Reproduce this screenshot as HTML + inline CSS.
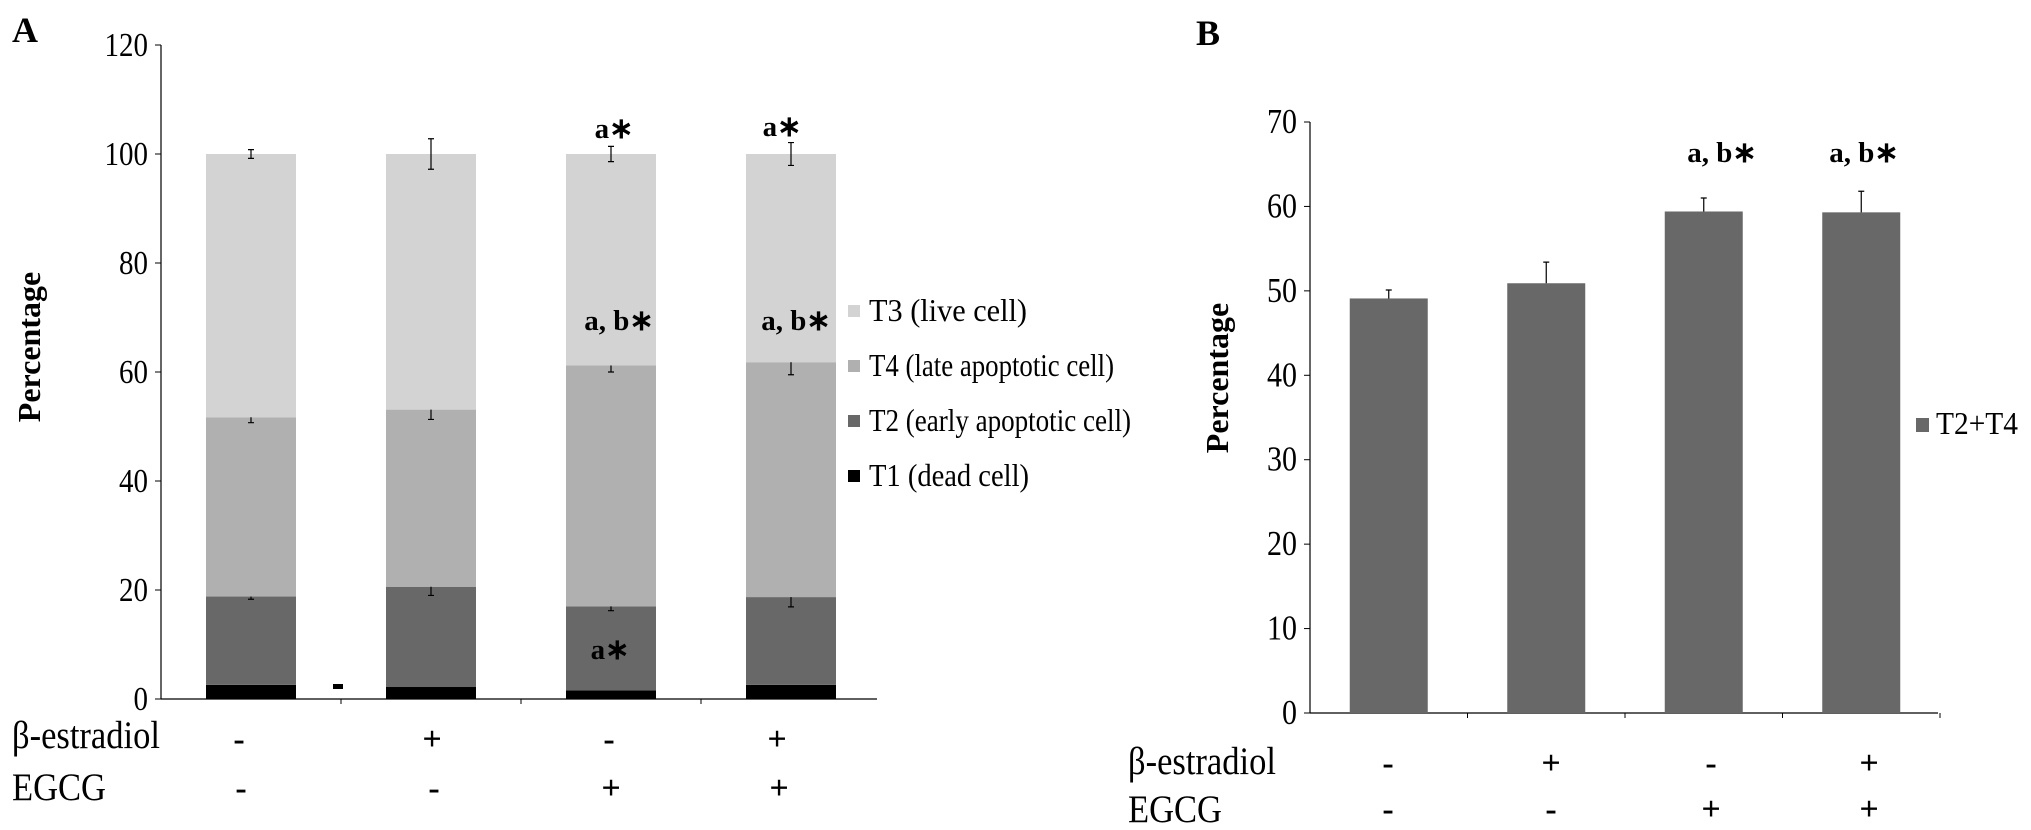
<!DOCTYPE html>
<html><head><meta charset="utf-8"><style>
html,body{margin:0;padding:0;background:#fff;}
svg{display:block;font-family:"Liberation Serif",serif;}
</style></head><body>
<svg id="c" width="2031" height="830" viewBox="0 0 2031 830"></svg>
<script>
// Panel A data
const catsA = ["ctrl","E2","EGCG","E2+EGCG"];
const t1 = [2.6, 2.2, 1.6, 2.6];
const t2 = [16.2, 18.4, 15.4, 16.1];
const t4 = [32.9, 32.5, 44.2, 43.1];
const t3 = [48.3, 46.9, 38.8, 38.2];
const errT2 = [0.5, 1.6, 0.8, 1.8];
const errT4 = [1.0, 1.8, 1.2, 2.3];
const errT3 = [0.8, 2.8, 1.4, 2.1];
const ticksA = [0,20,40,60,80,100,120];
// Panel B data
const catsB = ["ctrl","E2","EGCG","E2+EGCG"];
const valsB = [49.1, 50.9, 59.4, 59.3];
const errB = [1.0, 2.5, 1.6, 2.5];
const ticksB = [0,10,20,30,40,50,60,70];
const estr = ["-","+","-","+"];
const egcg = ["-","-","+","+"];

const svg = document.getElementById('c');
const NS = "http://www.w3.org/2000/svg";
function mk(tag, attrs, txt){
  const e = document.createElementNS(NS, tag);
  for (const k in attrs) e.setAttribute(k, attrs[k]);
  if (txt !== undefined) e.textContent = txt;
  svg.appendChild(e); return e;
}
// tall text helper (reference glyphs are vertically stretched)
function tall(x, y, size, anchor, txt, extra){
  const a = {x:0,y:0,'font-size':size,'text-anchor':anchor,transform:`translate(${x},${y}) scale(1,1.18)`};
  if (extra) for (const k in extra) a[k]=extra[k];
  return mk('text', a, txt);
}
let e;
// ---------- Panel A ----------
const A = {x0:161, x1:881, y0:699, yTop:45, max:120};
const yA = v => A.y0 - (v/A.max)*(A.y0-A.yTop);
const bwA = (A.x1-A.x0)/catsA.length;
const xA = i => A.x0 + bwA*(i+0.5);
e = mk('line',{x1:A.x0,y1:A.yTop,x2:A.x0,y2:A.y0,stroke:'#000','stroke-width':1.2});
 
e = mk('line',{x1:A.x0,y1:A.y0,x2:A.x1-4,y2:A.y0,stroke:'#000','stroke-width':1.2});
 
ticksA.forEach(t=>{
  e = mk('line',{x1:A.x0-6,y1:yA(t),x2:A.x0,y2:yA(t),stroke:'#000'});
   
  e = tall(A.x0-13, yA(t)+11, 29, 'end', String(t));
   
});
for(let i=1;i<catsA.length;i++){
  e = mk('line',{x1:A.x0+bwA*i,y1:A.y0,x2:A.x0+bwA*i,y2:A.y0+5,stroke:'#000'});
   
}
const segs = [[t1,'#000','t1',null],[t2,'#686868','t2',errT2],[t4,'#b0b0b0','t4',errT4],[t3,'#d3d3d3','t3',errT3]];
const barW = 90;
catsA.forEach((c,i)=>{
  let base = 0;
  segs.forEach(([arr,col,nm,err])=>{
    const top = base + arr[i];
    e = mk('rect',{x:xA(i)-barW/2,y:yA(top),width:barW,height:yA(base)-yA(top),fill:col});
     
    if(err){
      const cx = xA(i);
      const g1 = yA(top+err[i]), g2 = yA(top-err[i]);
      e = mk('path',{d:`M${cx} ${g1}V${g2}M${cx-3} ${g1}H${cx+3}M${cx-3} ${g2}H${cx+3}`,stroke:'#000','stroke-width':1.2,fill:'none'});
       
    }
    base = top;
  });
});
[[614,138,'a∗'],[782,136,'a∗'],[619,330,'a, b∗'],[796,330,'a, b∗'],[610,659,'a∗']].forEach(([x,y,t])=>{
  e = mk('text',{x:x,y:y,'text-anchor':'middle','font-size':29,'font-weight':'bold'},t);
   
});
e = mk('rect',{x:333,y:684,width:10,height:5,fill:'#000'});
 
const legA = [['T3  (live cell)','#d3d3d3',158],['T4  (late apoptotic cell)','#b0b0b0',245],['T2  (early apoptotic cell)','#686868',262],['T1  (dead cell)','#000',160]];
legA.forEach(([t,col,w],k)=>{
  const yy = 312 + k*55;
  e = mk('rect',{x:848,y:yy-7,width:12,height:12,fill:col});
   
  e = tall(869, yy+9, 27, 'start', t, {'xml:space':'preserve',textLength:w,lengthAdjust:'spacingAndGlyphs'});
   
});
e = mk('text',{x:0,y:0,'font-size':32,'font-weight':'bold','text-anchor':'middle',transform:'translate(40,347) rotate(-90)'},'Percentage');
 
e = mk('text',{x:12,y:42,'font-size':36,'font-weight':'bold'},'A');
 
e = tall(12, 748, 33, 'start', 'β-estradiol', {textLength:148,lengthAdjust:'spacingAndGlyphs'});
 
e = tall(12, 800, 33, 'start', 'EGCG', {textLength:94,lengthAdjust:'spacingAndGlyphs'});
 
const sxA=[239,432,609,777];
catsA.forEach((c,i)=>{
  e = mk('text',{x:sxA[i],y:750,'font-size':34,'font-weight':'bold','text-anchor':'middle'},estr[i]);
   
  e = mk('text',{x:sxA[i]+2,y:799,'font-size':34,'font-weight':'bold','text-anchor':'middle'},egcg[i]);
   
});
// ---------- Panel B ----------
const B = {x0:1310, x1:1940, y0:713, yTop:122, max:70};
const yB = v => B.y0 - (v/B.max)*(B.y0-B.yTop);
const bwB = (B.x1-B.x0)/catsB.length;
const xB = i => B.x0 + bwB*(i+0.5);
e = mk('line',{x1:B.x0,y1:B.yTop,x2:B.x0,y2:B.y0,stroke:'#000','stroke-width':1.2});
 
e = mk('line',{x1:B.x0,y1:B.y0,x2:B.x1-2,y2:B.y0,stroke:'#000','stroke-width':1.2});
 
ticksB.forEach(t=>{
  e = mk('line',{x1:B.x0-6,y1:yB(t),x2:B.x0,y2:yB(t),stroke:'#000'});
   
  e = tall(B.x0-13, yB(t)+11, 30, 'end', String(t));
   
});
for(let i=1;i<=catsB.length;i++){
  e = mk('line',{x1:B.x0+bwB*i,y1:B.y0,x2:B.x0+bwB*i,y2:B.y0+5,stroke:'#000'});
   
}
catsB.forEach((c,i)=>{
  e = mk('rect',{x:xB(i)-39,y:yB(valsB[i]),width:78,height:B.y0-yB(valsB[i]),fill:'#686868'});
   
  const cx=xB(i), g=yB(valsB[i]+errB[i]);
  e = mk('path',{d:`M${cx} ${g}V${yB(valsB[i])}M${cx-3} ${g}H${cx+3}`,stroke:'#000','stroke-width':1.2,fill:'none'});
   
});
[[1722,162,'a, b∗'],[1864,162,'a, b∗']].forEach(([x,y,t])=>{
  e = mk('text',{x:x,y:y,'text-anchor':'middle','font-size':29,'font-weight':'bold'},t);
   
});
e = mk('rect',{x:1916,y:418,width:13,height:14,fill:'#686868'});
 
e = tall(1936, 434, 27, 'start', 'T2+T4', {textLength:82,lengthAdjust:'spacingAndGlyphs'});
 
e = mk('text',{x:0,y:0,'font-size':32,'font-weight':'bold','text-anchor':'middle',transform:'translate(1228,378) rotate(-90)'},'Percentage');
 
e = mk('text',{x:1196,y:45,'font-size':36,'font-weight':'bold'},'B');
 
e = tall(1128, 774, 33, 'start', 'β-estradiol', {textLength:148,lengthAdjust:'spacingAndGlyphs'});
 
e = tall(1128, 822, 33, 'start', 'EGCG', {textLength:94,lengthAdjust:'spacingAndGlyphs'});
 
const sxB=[1388,1551,1711,1869];
catsB.forEach((c,i)=>{
  e = mk('text',{x:sxB[i],y:774,'font-size':34,'font-weight':'bold','text-anchor':'middle'},estr[i]);
   
  e = mk('text',{x:sxB[i],y:820,'font-size':34,'font-weight':'bold','text-anchor':'middle'},egcg[i]);
   
});
</script>
</body></html>
